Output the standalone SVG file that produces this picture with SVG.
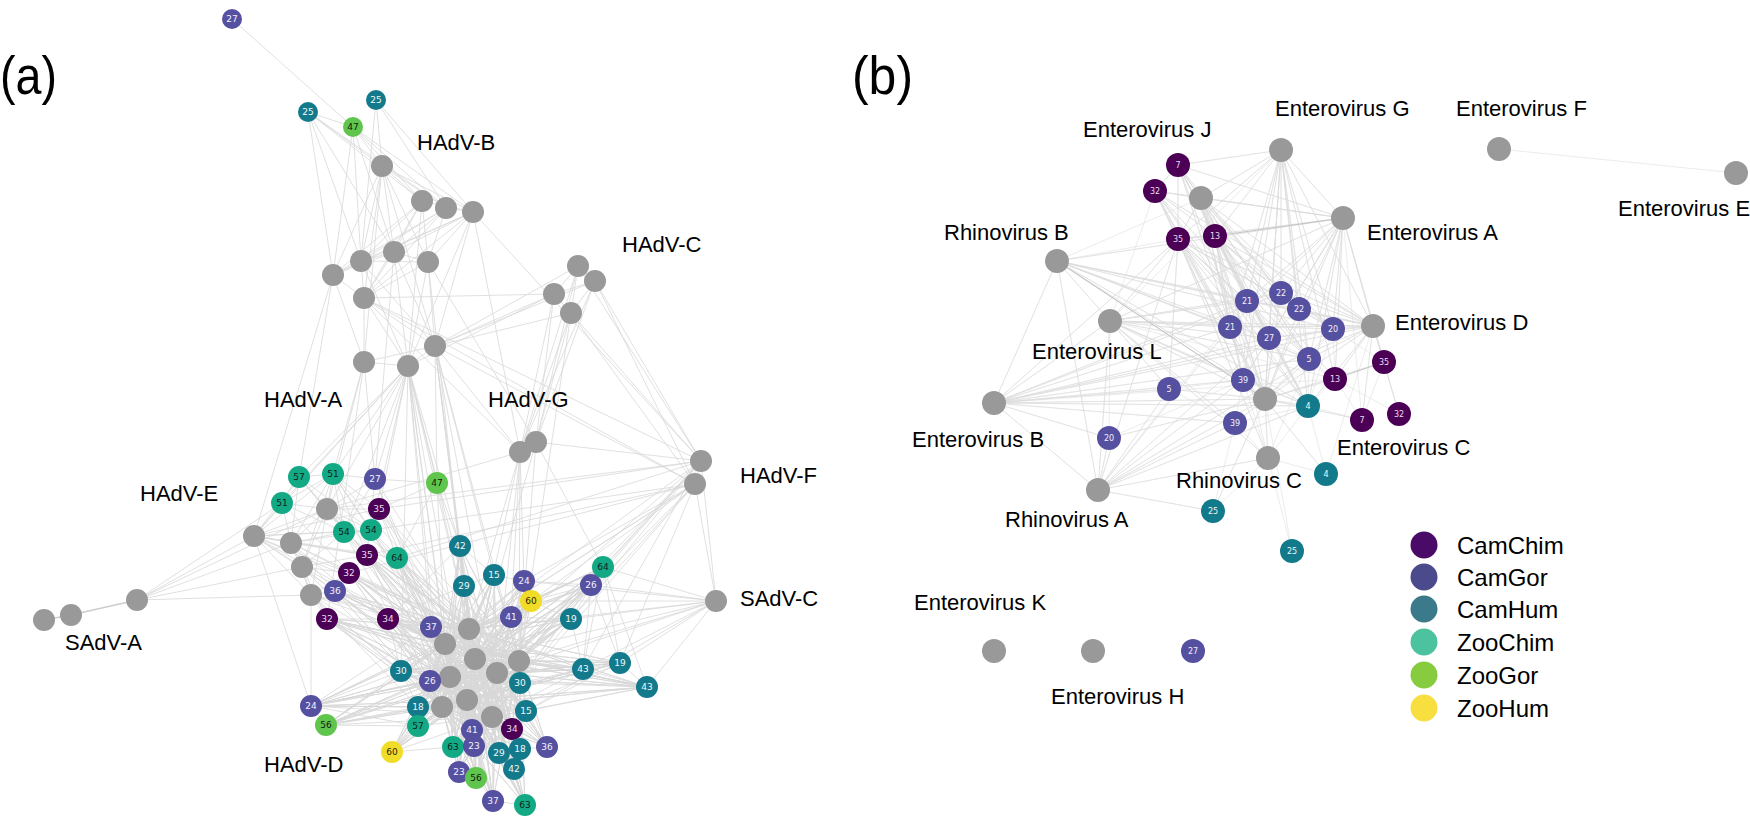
<svg xmlns="http://www.w3.org/2000/svg" width="1750" height="817" viewBox="0 0 1750 817">
<style>
.e{fill:none;stroke:#d8d8d8;stroke-width:0.8}
.eh{fill:none;stroke:#cccccc;stroke-width:1.6}
.eb{fill:none;stroke:#dcdcdc;stroke-width:0.55}
.ed{fill:none;stroke:#c4c4c4;stroke-width:1}
.gr circle{fill:#999999}
.cc circle{fill:#4b0055}.cc text{fill:#eadcec}
.cg circle{fill:#5650a0}.cg text{fill:#f2f2ff}
.ch circle{fill:#137a8c}.ch text{fill:#f0f8f8}
.zc circle{fill:#14a985}.zc text{fill:#0d1f1a}
.zg circle{fill:#60c54c}.zg text{fill:#10200c}
.zh circle{fill:#f1dc28}.zh text{fill:#2a2608}
.na text{font-family:"DejaVu Sans",Verdana,sans-serif;font-size:9px;text-anchor:middle}
.nb text{font-family:"DejaVu Sans",Verdana,sans-serif;font-size:8px;text-anchor:middle}
.lab{font-family:"Liberation Sans",Arial,Helvetica,sans-serif;font-size:22px;fill:#000}
.pl{font-family:"Liberation Sans",Arial,sans-serif;font-size:54px;fill:#000}
.lg{font-family:"Liberation Sans",Arial,Helvetica,sans-serif;font-size:24px;fill:#000}
</style>
<rect width="1750" height="817" fill="#ffffff"/>
<text class="pl" x="0" y="94" textLength="57" lengthAdjust="spacingAndGlyphs">(a)</text>
<text class="pl" x="852" y="94" textLength="61" lengthAdjust="spacingAndGlyphs">(b)</text>

<g id="connectors">
<path class="e" d="M232 19L353 127M308 112L382 166M308 112L422 201M308 112L446 208M308 112L361 261M308 112L333 275M308 112L353 127M308 112L394 252M376 100L382 166M376 100L473 212M376 100L446 208M376 100L361 261M353 127L382 166M353 127L422 201M353 127L446 208M353 127L473 212M353 127L361 261M353 127L394 252M353 127L333 275
M382 166L422 201M382 166L446 208M382 166L473 212M382 166L333 275M382 166L361 261M382 166L394 252M382 166L428 262M382 166L364 298M382 166L435 346M382 166L364 362
M422 201L333 275M422 201L361 261M422 201L394 252M422 201L428 262M422 201L364 298M422 201L473 212M422 201L408 366
M446 208L473 212M446 208L333 275M446 208L361 261M446 208L394 252M446 208L428 262M446 208L364 298
M473 212L333 275M473 212L361 261M473 212L394 252M473 212L428 262M473 212L364 298M473 212L435 346M473 212L408 366M473 212L701 461M473 212L520 452
M333 275L361 261M333 275L394 252M333 275L364 298M333 275L254 536M333 275L364 362M333 275L299 477
M361 261L394 252M361 261L428 262M361 261L364 298M361 261L435 346M361 261L408 366
M394 252L428 262M394 252L364 298M394 252L435 346M394 252L408 366M394 252L375 479
M428 262L364 298M428 262L435 346M428 262L408 366M428 262L469 629M428 262L536 442
M364 298L435 346M364 298L364 362M364 298L408 366M364 298L701 461M364 298L520 452M364 298L695 484
M435 346L364 362M435 346L408 366M435 346L578 266M435 346L554 294M435 346L595 281M435 346L571 313M435 346L520 452M435 346L469 629M435 346L519 661M435 346L437 483M435 346L475 659M435 346L695 484M435 346L497 673M435 346L464 586M435 346L494 575
M364 362L408 366M364 362L375 479M364 362L327 509M364 362L333 474M364 362L327 619
M408 366L375 479M408 366L379 509M408 366L344 532M408 366L333 474M408 366L327 509M408 366L299 477M408 366L469 629M408 366L445 644M408 366L437 483M408 366L460 546M408 366L450 677M408 366L282 503M408 366L254 536M408 366L371 530M408 366L442 707M408 366L467 700M408 366L431 627M408 366L464 586M408 366L401 671
M578 266L595 281M578 266L554 294M578 266L571 313M578 266L520 452M578 266L701 461M578 266L536 442M595 281L554 294M595 281L571 313M595 281L701 461M595 281L536 442M595 281L695 484M595 281L520 452M554 294L571 313M554 294L520 452M554 294L536 442M554 294L408 366M554 294L364 298M571 313L520 452M571 313L536 442M571 313L701 461M571 313L695 484M571 313L519 661
M520 452L536 442M520 452L469 629M520 452L519 661M520 452L475 659M520 452L511 617M520 452L497 673M520 452L524 581M520 452L327 509M536 442L519 661M536 442L701 461M536 442L475 659M536 442L603 567
M701 461L695 484M701 461L716 601M701 461L519 661M701 461L469 629M701 461L397 558M701 461L379 509M701 461L603 567M701 461L591 585M701 461L475 659M701 461L327 509M701 461L497 673M701 461L583 669M701 461L571 619
M695 484L716 601M695 484L519 661M695 484L531 601M695 484L367 555M695 484L371 530M695 484L469 629M695 484L524 581M695 484L349 573M695 484L445 644M695 484L492 717M695 484L620 663M695 484L571 619
M716 601L603 567M716 601L591 585M716 601L571 619M716 601L519 661M716 601L583 669M716 601L469 629M716 601L531 601M716 601L524 581M716 601L620 663M716 601L647 687M716 601L475 659M716 601L497 673M716 601L526 711
M137 600L254 536M137 600L291 543M137 600L302 567M137 600L311 595M137 600L327 509M137 600L282 503
M254 536L299 477M254 536L282 503M254 536L327 509M254 536L291 543M254 536L302 567M254 536L311 595M254 536L333 474M254 536L344 532M254 536L367 555M254 536L311 706M254 536L349 573M254 536L445 644M254 536L371 530M254 536L379 509M254 536L397 558M254 536L469 629M254 536L335 591
M327 509L291 543M327 509L302 567M327 509L333 474M327 509L299 477M327 509L344 532M327 509L371 530M327 509L379 509M327 509L367 555M327 509L375 479M327 509L311 595M327 509L397 558M327 509L282 503M327 509L469 629M327 509L445 644
M291 543L302 567M291 543L311 595M291 543L282 503M291 543L344 532M291 543L349 573M291 543L335 591M291 543L367 555M291 543L299 477M291 543L333 474M291 543L371 530M291 543L450 677M291 543L469 629
M302 567L311 595M302 567L335 591M302 567L349 573M302 567L327 619M302 567L344 532M302 567L367 555M302 567L333 474M302 567L445 644M302 567L442 707
M311 595L335 591M311 595L327 619M311 595L349 573M311 595L445 644M311 595L469 629M311 595L431 627M311 595L450 677M311 595L442 707M311 595L401 671M311 595L418 707M311 595L311 706
M299 477L282 503M299 477L333 474M333 474L375 479M375 479L437 483M333 474L344 532M333 474L367 555M333 474L379 509M282 503L344 532M282 503L333 474M379 509L371 530M344 532L371 530M367 555L349 573M349 573L335 591M379 509L397 558M437 483L397 558M437 483L460 546M437 483L379 509M437 483L469 629M437 483L445 644M375 479L367 555M375 479L344 532M299 477L344 532M299 477L371 530M333 474L371 530
M344 532L469 629M344 532L445 644M344 532L450 677M344 532L442 707M371 530L469 629M371 530L445 644M371 530L475 659M371 530L450 677M379 509L469 629M379 509L445 644M379 509L519 661M379 509L475 659M375 479L469 629M375 479L445 644M375 479L450 677M333 474L445 644M333 474L469 629M299 477L445 644M282 503L450 677
M311 706L326 725M311 706L401 671M311 706L430 681M311 706L418 707M311 706L418 726M311 706L431 627M326 725L401 671M326 725L418 707M326 725L418 726M326 725L430 681M392 752L418 726M392 752L418 707M392 752L453 747M583 669L620 663M583 669L647 687M620 663L647 687M571 619L583 669M520 683L583 669M520 683L647 687M526 711L647 687M526 711L620 663M547 747L526 711M547 747L520 749M547 747L520 683M603 567L591 585M603 567L531 601M591 585L531 601M591 585L524 581M524 581L531 601M494 575L524 581M464 586L494 575M460 546L464 586M460 546L494 575M431 627L401 671M431 627L430 681M401 671L430 681M401 671L418 707M430 681L418 707M418 707L418 726M453 747L474 746M474 746L459 772M459 772L476 778M476 778L493 801M493 801L525 805M514 769L525 805M499 753L520 749M499 753L514 769M512 729L520 749M512 729L526 711M472 730L474 746M472 730L512 729M388 619L431 627M388 619L401 671M327 619L401 671M327 619L388 619M388 619L464 586M388 619L460 546M511 617L531 601M511 617L571 619M571 619L531 601M571 619L603 567M620 663L603 567M647 687L603 567M583 669L603 567M583 669L591 585M620 663L591 585"/>
<path class="e" d="M469 629L445 644M469 629L475 659M469 629L519 661M469 629L497 673M469 629L450 677M469 629L467 700M469 629L442 707M469 629L492 717M445 644L475 659M445 644L519 661M445 644L497 673M445 644L450 677M445 644L467 700M445 644L442 707M445 644L492 717M475 659L519 661M475 659L497 673M475 659L450 677M475 659L467 700M475 659L442 707M475 659L492 717M519 661L497 673M519 661L450 677M519 661L467 700M519 661L442 707M519 661L492 717M497 673L450 677M497 673L467 700M497 673L442 707M497 673L492 717M450 677L467 700M450 677L442 707M450 677L492 717M467 700L442 707M467 700L492 717M442 707L492 717
M460 546L469 629L460 546L445 644L460 546L475 659L460 546L519 661L460 546L497 673L460 546L450 677L460 546L467 700L460 546L442 707L460 546L492 717
M494 575L469 629L494 575L445 644L494 575L475 659L494 575L519 661L494 575L497 673L494 575L450 677L494 575L467 700L494 575L442 707L494 575L492 717
M464 586L469 629L464 586L445 644L464 586L475 659L464 586L519 661L464 586L497 673L464 586L450 677L464 586L467 700L464 586L442 707L464 586L492 717
M524 581L469 629L524 581L445 644L524 581L475 659L524 581L519 661L524 581L497 673L524 581L450 677L524 581L467 700L524 581L442 707L524 581L492 717
M531 601L469 629L531 601L445 644L531 601L475 659L531 601L519 661L531 601L497 673L531 601L450 677L531 601L467 700L531 601L442 707L531 601L492 717
M603 567L469 629L603 567L445 644L603 567L475 659L603 567L519 661L603 567L497 673L603 567L450 677L603 567L467 700L603 567L442 707L603 567L492 717
M591 585L469 629L591 585L445 644L591 585L475 659L591 585L519 661L591 585L497 673L591 585L450 677L591 585L467 700L591 585L442 707L591 585L492 717
M511 617L469 629L511 617L445 644L511 617L475 659L511 617L519 661L511 617L497 673L511 617L450 677L511 617L467 700L511 617L442 707L511 617L492 717
M571 619L469 629L571 619L445 644L571 619L475 659L571 619L519 661L571 619L497 673L571 619L450 677L571 619L467 700L571 619L442 707L571 619L492 717
M431 627L469 629L431 627L445 644L431 627L475 659L431 627L519 661L431 627L497 673L431 627L450 677L431 627L467 700L431 627L442 707L431 627L492 717
M401 671L469 629L401 671L445 644L401 671L475 659L401 671L519 661L401 671L497 673L401 671L450 677L401 671L467 700L401 671L442 707L401 671L492 717
M430 681L469 629L430 681L445 644L430 681L475 659L430 681L519 661L430 681L497 673L430 681L450 677L430 681L467 700L430 681L442 707L430 681L492 717
M520 683L469 629L520 683L445 644L520 683L475 659L520 683L519 661L520 683L497 673L520 683L450 677L520 683L467 700L520 683L442 707L520 683L492 717
M583 669L469 629L583 669L445 644L583 669L475 659L583 669L519 661L583 669L497 673L583 669L450 677L583 669L467 700L583 669L442 707L583 669L492 717
M620 663L469 629L620 663L445 644L620 663L475 659L620 663L519 661L620 663L497 673L620 663L450 677L620 663L467 700L620 663L442 707L620 663L492 717
M647 687L469 629L647 687L445 644L647 687L475 659L647 687L519 661L647 687L497 673L647 687L450 677L647 687L467 700L647 687L442 707L647 687L492 717
M418 707L469 629L418 707L445 644L418 707L475 659L418 707L519 661L418 707L497 673L418 707L450 677L418 707L467 700L418 707L442 707L418 707L492 717
M526 711L469 629L526 711L445 644L526 711L475 659L526 711L519 661L526 711L497 673L526 711L450 677L526 711L467 700L526 711L442 707L526 711L492 717
M418 726L469 629L418 726L445 644L418 726L475 659L418 726L519 661L418 726L497 673L418 726L450 677L418 726L467 700L418 726L442 707L418 726L492 717
M472 730L469 629L472 730L445 644L472 730L475 659L472 730L519 661L472 730L497 673L472 730L450 677L472 730L467 700L472 730L442 707L472 730L492 717
M512 729L469 629L512 729L445 644L512 729L475 659L512 729L519 661L512 729L497 673L512 729L450 677L512 729L467 700L512 729L442 707L512 729L492 717
M453 747L469 629L453 747L445 644L453 747L475 659L453 747L519 661L453 747L497 673L453 747L450 677L453 747L467 700L453 747L442 707L453 747L492 717
M474 746L469 629L474 746L445 644L474 746L475 659L474 746L519 661L474 746L497 673L474 746L450 677L474 746L467 700L474 746L442 707L474 746L492 717
M499 753L469 629L499 753L445 644L499 753L475 659L499 753L519 661L499 753L497 673L499 753L450 677L499 753L467 700L499 753L442 707L499 753L492 717
M520 749L469 629L520 749L445 644L520 749L475 659L520 749L519 661L520 749L497 673L520 749L450 677L520 749L467 700L520 749L442 707L520 749L492 717
M547 747L469 629L547 747L445 644L547 747L475 659L547 747L519 661L547 747L497 673L547 747L450 677L547 747L467 700L547 747L442 707L547 747L492 717
M392 752L469 629L392 752L445 644L392 752L475 659L392 752L519 661L392 752L497 673L392 752L450 677L392 752L467 700L392 752L442 707L392 752L492 717
M514 769L469 629L514 769L445 644L514 769L475 659L514 769L519 661L514 769L497 673L514 769L450 677L514 769L467 700L514 769L442 707L514 769L492 717
M459 772L469 629L459 772L445 644L459 772L475 659L459 772L519 661L459 772L497 673L459 772L450 677L459 772L467 700L459 772L442 707L459 772L492 717
M476 778L469 629L476 778L445 644L476 778L475 659L476 778L519 661L476 778L497 673L476 778L450 677L476 778L467 700L476 778L442 707L476 778L492 717
M493 801L469 629L493 801L445 644L493 801L475 659L493 801L519 661L493 801L497 673L493 801L450 677L493 801L467 700L493 801L442 707L493 801L492 717
M525 805L469 629L525 805L445 644L525 805L475 659L525 805L519 661L525 805L497 673L525 805L450 677L525 805L467 700L525 805L442 707L525 805L492 717
M311 706L469 629L311 706L445 644L311 706L475 659L311 706L519 661L311 706L497 673L311 706L450 677L311 706L467 700L311 706L442 707L311 706L492 717
M326 725L469 629L326 725L445 644L326 725L475 659L326 725L519 661L326 725L497 673L326 725L450 677L326 725L467 700L326 725L442 707L326 725L492 717
M388 619L469 629L388 619L445 644L388 619L475 659L388 619L519 661L388 619L497 673L388 619L450 677L388 619L467 700L388 619L442 707L388 619L492 717
M327 619L469 629L327 619L445 644L327 619L475 659L327 619L519 661L327 619L497 673L327 619L450 677L327 619L467 700L327 619L442 707L327 619L492 717
M335 591L469 629L335 591L445 644L335 591L475 659L335 591L519 661L335 591L497 673L335 591L450 677L335 591L467 700L335 591L442 707L335 591L492 717
M349 573L469 629L349 573L445 644L349 573L475 659L349 573L519 661L349 573L497 673L349 573L450 677L349 573L467 700L349 573L442 707L349 573L492 717
M367 555L469 629L367 555L445 644L367 555L475 659L367 555L519 661L367 555L497 673L367 555L450 677L367 555L467 700L367 555L442 707L367 555L492 717
M397 558L469 629L397 558L445 644L397 558L475 659L397 558L519 661L397 558L497 673L397 558L450 677L397 558L467 700L397 558L442 707L397 558L492 717"/>
<path class="eh" d="M44 620L71 615L137 600"/>
<path class="eb" d="M1281 150L1178 165L1281 150L1178 239L1281 150L1215 236L1281 150L1247 301L1281 150L1281 293L1281 150L1299 309L1281 150L1230 327L1281 150L1269 338L1281 150L1333 329L1281 150L1309 359L1281 150L1373 326L1281 150L1343 218L1281 150L1243 380L1281 150L1265 399L1281 150L1335 379L1281 150L1308 406L1281 150L1201 198L1281 150L1110 321
M1343 218L1178 239L1343 218L1201 198L1343 218L1178 165L1343 218L1155 191L1343 218L1247 301L1343 218L1281 293L1343 218L1299 309L1343 218L1333 329L1343 218L1309 359L1343 218L1373 326L1343 218L1335 379L1343 218L1269 338L1343 218L1308 406L1343 218L1265 399L1343 218L1384 362L1343 218L1110 321L1343 218L1057 261L1343 218L1230 327L1343 218L1243 380L1343 218L1362 420
M1201 198L1178 165L1201 198L1155 191L1201 198L1178 239L1201 198L1215 236L1201 198L1247 301L1201 198L1281 293L1201 198L1299 309L1201 198L1230 327L1201 198L1269 338L1201 198L1333 329L1201 198L1309 359L1201 198L1265 399L1201 198L1308 406L1201 198L1373 326L1201 198L1243 380L1201 198L1057 261
M1178 165L1155 191L1178 165L1178 239L1178 165L1215 236L1178 165L1230 327L1178 165L1269 338L1178 165L1281 293L1178 165L1265 399L1178 165L1308 406L1178 165L1309 359L1178 165L1247 301
M1155 191L1178 239L1155 191L1215 236L1155 191L1230 327L1155 191L1269 338L1155 191L1243 380L1155 191L1265 399L1155 191L1308 406L1155 191L1309 359L1155 191L1373 326L1155 191L1110 321
M1178 239L1215 236L1178 239L1230 327L1178 239L1269 338L1178 239L1243 380L1178 239L1265 399L1178 239L1308 406L1178 239L1309 359L1178 239L1373 326L1178 239L1110 321L1178 239L1169 389L1178 239L1268 458L1178 239L1098 490L1178 239L994 403L1178 239L1299 309L1178 239L1333 329L1178 239L1247 301L1178 239L1057 261
M1215 236L1247 301L1215 236L1230 327L1215 236L1269 338L1215 236L1281 293L1215 236L1299 309L1215 236L1243 380L1215 236L1265 399L1215 236L1308 406L1215 236L1309 359L1215 236L1373 326L1215 236L1333 329L1215 236L1335 379L1215 236L1268 458
M1057 261L1110 321L1057 261L994 403L1057 261L1230 327L1057 261L1269 338L1057 261L1373 326L1057 261L1333 329L1057 261L1265 399L1057 261L1309 359L1057 261L1308 406L1057 261L1243 380L1057 261L1098 490L1057 261L1247 301L1057 261L1299 309
M1110 321L1230 327L1110 321L1269 338L1110 321L1333 329L1110 321L1373 326L1110 321L1265 399L1110 321L1243 380L1110 321L1309 359L1110 321L1308 406L1110 321L1169 389L1110 321L1235 423L1110 321L1098 490L1110 321L994 403L1110 321L1268 458L1110 321L1247 301L1110 321L1281 293L1110 321L1335 379
M1373 326L1299 309L1373 326L1333 329L1373 326L1309 359L1373 326L1335 379L1373 326L1384 362L1373 326L1308 406L1373 326L1265 399L1373 326L1269 338L1373 326L1230 327L1373 326L1247 301L1373 326L1281 293L1373 326L1362 420L1373 326L1399 414L1373 326L1243 380L1373 326L1326 474
M1265 399L1243 380L1265 399L1235 423L1265 399L1308 406L1265 399L1268 458L1265 399L1169 389L1265 399L994 403L1265 399L1109 438L1265 399L1098 490L1265 399L1335 379L1265 399L1362 420L1265 399L1309 359L1265 399L1269 338L1265 399L1230 327L1265 399L1247 301L1265 399L1281 293L1265 399L1299 309L1265 399L1333 329L1265 399L1326 474L1265 399L1213 511L1265 399L1384 362L1265 399L1292 551
M994 403L1169 389L994 403L1243 380L994 403L1235 423L994 403L1230 327L994 403L1269 338L994 403L1098 490L994 403L1109 438L994 403L1308 406L994 403L1309 359L994 403L1373 326L994 403L1247 301L994 403L1281 293L994 403L1333 329L994 403L1335 379
M1098 490L1169 389L1098 490L1235 423L1098 490L1243 380L1098 490L1268 458L1098 490L1109 438L1098 490L1308 406L1098 490L1230 327L1098 490L1269 338L1098 490L1213 511L1098 490L1309 359L1098 490L1247 301
M1335 379L1362 420M1335 379L1399 414M1335 379L1308 406M1335 379L1309 359M1335 379L1333 329M1335 379L1269 338M1384 362L1399 414M1384 362L1362 420M1384 362L1333 329M1308 406L1362 420M1308 406L1326 474M1308 406L1268 458M1308 406L1235 423M1308 406L1243 380M1308 406L1309 359M1308 406L1269 338M1268 458L1235 423M1268 458L1292 551M1268 458L1326 474M1268 458L1243 380M1268 458L1309 359M1235 423L1169 389M1235 423L1213 511M1235 423L1243 380M1109 438L1243 380M1109 438L1110 321M1169 389L1243 380M1247 301L1281 293M1247 301L1299 309M1247 301L1230 327M1247 301L1269 338M1281 293L1299 309M1281 293L1269 338M1299 309L1269 338M1299 309L1333 329M1230 327L1269 338M1269 338L1333 329M1269 338L1309 359M1309 359L1333 329M1230 327L1243 380M1269 338L1243 380M1333 329L1308 406M1299 309L1309 359M1247 301L1243 380M1281 293L1333 329M1213 511L1268 458M1499 149L1736 173"/>
<path class="ed" d="M1343 218L1215 236M1335 379L1384 362M1057 261L1265 399"/>
</g>

<g id="panel-a-nodes" class="na">
<g id="a-B1" class="gr"><circle cx="382" cy="166" r="11"/></g>
<g id="a-B2" class="gr"><circle cx="422" cy="201" r="11"/></g>
<g id="a-B3" class="gr"><circle cx="446" cy="208" r="11"/></g>
<g id="a-B4" class="gr"><circle cx="473" cy="212" r="11"/></g>
<g id="a-B5" class="gr"><circle cx="333" cy="275" r="11"/></g>
<g id="a-B6" class="gr"><circle cx="361" cy="261" r="11"/></g>
<g id="a-B7" class="gr"><circle cx="394" cy="252" r="11"/></g>
<g id="a-B8" class="gr"><circle cx="428" cy="262" r="11"/></g>
<g id="a-B9" class="gr"><circle cx="364" cy="298" r="11"/></g>
<g id="a-C1" class="gr"><circle cx="578" cy="266" r="11"/></g>
<g id="a-C2" class="gr"><circle cx="595" cy="281" r="11"/></g>
<g id="a-C3" class="gr"><circle cx="554" cy="294" r="11"/></g>
<g id="a-C4" class="gr"><circle cx="571" cy="313" r="11"/></g>
<g id="a-A1" class="gr"><circle cx="435" cy="346" r="11"/></g>
<g id="a-A2" class="gr"><circle cx="364" cy="362" r="11"/></g>
<g id="a-A3" class="gr"><circle cx="408" cy="366" r="11"/></g>
<g id="a-G2" class="gr"><circle cx="536" cy="442" r="11"/></g>
<g id="a-G1" class="gr"><circle cx="520" cy="452" r="11"/></g>
<g id="a-F1" class="gr"><circle cx="701" cy="461" r="11"/></g>
<g id="a-F2" class="gr"><circle cx="695" cy="484" r="11"/></g>
<g id="a-SC" class="gr"><circle cx="716" cy="601" r="11"/></g>
<g id="a-E1" class="gr"><circle cx="327" cy="509" r="11"/></g>
<g id="a-E2" class="gr"><circle cx="254" cy="536" r="11"/></g>
<g id="a-E3" class="gr"><circle cx="291" cy="543" r="11"/></g>
<g id="a-E4" class="gr"><circle cx="302" cy="567" r="11"/></g>
<g id="a-E5" class="gr"><circle cx="311" cy="595" r="11"/></g>
<g id="a-S1" class="gr"><circle cx="137" cy="600" r="11"/></g>
<g id="a-S2" class="gr"><circle cx="71" cy="615" r="11"/></g>
<g id="a-S3" class="gr"><circle cx="44" cy="620" r="11"/></g>
<g id="a-D1" class="gr"><circle cx="469" cy="629" r="11"/></g>
<g id="a-D2" class="gr"><circle cx="445" cy="644" r="11"/></g>
<g id="a-D3" class="gr"><circle cx="475" cy="659" r="11"/></g>
<g id="a-D4" class="gr"><circle cx="519" cy="661" r="11"/></g>
<g id="a-D5" class="gr"><circle cx="497" cy="673" r="11"/></g>
<g id="a-D6" class="gr"><circle cx="450" cy="677" r="11"/></g>
<g id="a-D7" class="gr"><circle cx="467" cy="700" r="11"/></g>
<g id="a-D8" class="gr"><circle cx="442" cy="707" r="11"/></g>
<g id="a-D9" class="gr"><circle cx="492" cy="717" r="11"/></g>

<g id="a-t27" class="cg"><circle cx="232" cy="19" r="10"/><text x="232" y="22.3">27</text></g>
<g id="a-t25a" class="ch"><circle cx="308" cy="112" r="10"/><text x="308" y="115.3">25</text></g>
<g id="a-t25b" class="ch"><circle cx="376" cy="100" r="10"/><text x="376" y="103.3">25</text></g>
<g id="a-t47" class="zg"><circle cx="353" cy="127" r="10"/><text x="353" y="130.3">47</text></g>
<g id="a-e57" class="zc"><circle cx="299" cy="477" r="11"/><text x="299" y="480.3">57</text></g>
<g id="a-e51a" class="zc"><circle cx="333" cy="474" r="11"/><text x="333" y="477.3">51</text></g>
<g id="a-e27" class="cg"><circle cx="375" cy="479" r="11"/><text x="375" y="482.3">27</text></g>
<g id="a-e47" class="zg"><circle cx="437" cy="483" r="11"/><text x="437" y="486.3">47</text></g>
<g id="a-e51b" class="zc"><circle cx="282" cy="503" r="11"/><text x="282" y="506.3">51</text></g>
<g id="a-e35a" class="cc"><circle cx="379" cy="509" r="11"/><text x="379" y="512.3">35</text></g>
<g id="a-e54a" class="zc"><circle cx="344" cy="532" r="11"/><text x="344" y="535.3">54</text></g>
<g id="a-e54b" class="zc"><circle cx="371" cy="530" r="11"/><text x="371" y="533.3">54</text></g>
<g id="a-e35b" class="cc"><circle cx="367" cy="555" r="11"/><text x="367" y="558.3">35</text></g>
<g id="a-e64" class="zc"><circle cx="397" cy="558" r="11"/><text x="397" y="561.3">64</text></g>
<g id="a-e32a" class="cc"><circle cx="349" cy="573" r="11"/><text x="349" y="576.3">32</text></g>
<g id="a-e36" class="cg"><circle cx="335" cy="591" r="11"/><text x="335" y="594.3">36</text></g>
<g id="a-e32b" class="cc"><circle cx="327" cy="619" r="11"/><text x="327" y="622.3">32</text></g>
<g id="a-e34" class="cc"><circle cx="388" cy="619" r="11"/><text x="388" y="622.3">34</text></g>
<g id="a-d42" class="ch"><circle cx="460" cy="546" r="11"/><text x="460" y="549.3">42</text></g>
<g id="a-d15" class="ch"><circle cx="494" cy="575" r="11"/><text x="494" y="578.3">15</text></g>
<g id="a-d29" class="ch"><circle cx="464" cy="586" r="11"/><text x="464" y="589.3">29</text></g>
<g id="a-d24" class="cg"><circle cx="524" cy="581" r="11"/><text x="524" y="584.3">24</text></g>
<g id="a-d60" class="zh"><circle cx="531" cy="601" r="11"/><text x="531" y="604.3">60</text></g>
<g id="a-d64" class="zc"><circle cx="603" cy="567" r="11"/><text x="603" y="570.3">64</text></g>
<g id="a-d26" class="cg"><circle cx="591" cy="585" r="11"/><text x="591" y="588.3">26</text></g>
<g id="a-d41" class="cg"><circle cx="511" cy="617" r="11"/><text x="511" y="620.3">41</text></g>
<g id="a-d19" class="ch"><circle cx="571" cy="619" r="11"/><text x="571" y="622.3">19</text></g>
<g id="a-d37" class="cg"><circle cx="431" cy="627" r="11"/><text x="431" y="630.3">37</text></g>
<g id="a-d30a" class="ch"><circle cx="401" cy="671" r="11"/><text x="401" y="674.3">30</text></g>
<g id="a-d26b" class="cg"><circle cx="430" cy="681" r="11"/><text x="430" y="684.3">26</text></g>
<g id="a-d30b" class="ch"><circle cx="520" cy="683" r="11"/><text x="520" y="686.3">30</text></g>
<g id="a-d43a" class="ch"><circle cx="583" cy="669" r="11"/><text x="583" y="672.3">43</text></g>
<g id="a-d19b" class="ch"><circle cx="620" cy="663" r="11"/><text x="620" y="666.3">19</text></g>
<g id="a-d43b" class="ch"><circle cx="647" cy="687" r="11"/><text x="647" y="690.3">43</text></g>
<g id="a-d18" class="ch"><circle cx="418" cy="707" r="11"/><text x="418" y="710.3">18</text></g>
<g id="a-d15b" class="ch"><circle cx="526" cy="711" r="11"/><text x="526" y="714.3">15</text></g>
<g id="a-d57" class="zc"><circle cx="418" cy="726" r="11"/><text x="418" y="729.3">57</text></g>
<g id="a-d41b" class="cg"><circle cx="472" cy="730" r="11"/><text x="472" y="733.3">41</text></g>
<g id="a-d34" class="cc"><circle cx="512" cy="729" r="11"/><text x="512" y="732.3">34</text></g>
<g id="a-d63" class="zc"><circle cx="453" cy="747" r="11"/><text x="453" y="750.3">63</text></g>
<g id="a-d23" class="cg"><circle cx="474" cy="746" r="11"/><text x="474" y="749.3">23</text></g>
<g id="a-d29b" class="ch"><circle cx="499" cy="753" r="11"/><text x="499" y="756.3">29</text></g>
<g id="a-d42b" class="ch"><circle cx="514" cy="769" r="11"/><text x="514" y="772.3">42</text></g>
<g id="a-d18b" class="ch"><circle cx="520" cy="749" r="11"/><text x="520" y="752.3">18</text></g>
<g id="a-d36" class="cg"><circle cx="547" cy="747" r="11"/><text x="547" y="750.3">36</text></g>
<g id="a-d60b" class="zh"><circle cx="392" cy="752" r="11"/><text x="392" y="755.3">60</text></g>
<g id="a-d23b" class="cg"><circle cx="459" cy="772" r="11"/><text x="459" y="775.3">23</text></g>
<g id="a-d56" class="zg"><circle cx="476" cy="778" r="11"/><text x="476" y="781.3">56</text></g>
<g id="a-d37b" class="cg"><circle cx="493" cy="801" r="11"/><text x="493" y="804.3">37</text></g>
<g id="a-d63b" class="zc"><circle cx="525" cy="805" r="11"/><text x="525" y="808.3">63</text></g>
<g id="a-d24b" class="cg"><circle cx="311" cy="706" r="11"/><text x="311" y="709.3">24</text></g>
<g id="a-d56b" class="zg"><circle cx="326" cy="725" r="11"/><text x="326" y="728.3">56</text></g>
</g>

<g id="panel-b-nodes" class="nb">
<g id="b-G" class="gr"><circle cx="1281" cy="150" r="12"/></g>
<g id="b-F" class="gr"><circle cx="1499" cy="149" r="12"/></g>
<g id="b-E" class="gr"><circle cx="1736" cy="173" r="12"/></g>
<g id="b-J" class="gr"><circle cx="1201" cy="198" r="12"/></g>
<g id="b-A" class="gr"><circle cx="1343" cy="218" r="12"/></g>
<g id="b-RB" class="gr"><circle cx="1057" cy="261" r="12"/></g>
<g id="b-L" class="gr"><circle cx="1110" cy="321" r="12"/></g>
<g id="b-D" class="gr"><circle cx="1373" cy="326" r="12"/></g>
<g id="b-B" class="gr"><circle cx="994" cy="403" r="12"/></g>
<g id="b-X" class="gr"><circle cx="1265" cy="399" r="12"/></g>
<g id="b-RC" class="gr"><circle cx="1268" cy="458" r="12"/></g>
<g id="b-RA" class="gr"><circle cx="1098" cy="490" r="12"/></g>
<g id="b-K" class="gr"><circle cx="994" cy="651" r="12"/></g>
<g id="b-H" class="gr"><circle cx="1093" cy="651" r="12"/></g>
<g id="b-c7a" class="cc"><circle cx="1178" cy="165" r="12"/><text x="1178" y="168">7</text></g>
<g id="b-c32a" class="cc"><circle cx="1155" cy="191" r="12"/><text x="1155" y="194">32</text></g>
<g id="b-c35a" class="cc"><circle cx="1178" cy="239" r="12"/><text x="1178" y="242">35</text></g>
<g id="b-c13a" class="cc"><circle cx="1215" cy="236" r="12"/><text x="1215" y="239">13</text></g>
<g id="b-g21a" class="cg"><circle cx="1247" cy="301" r="12"/><text x="1247" y="304">21</text></g>
<g id="b-g22a" class="cg"><circle cx="1281" cy="293" r="12"/><text x="1281" y="296">22</text></g>
<g id="b-g22b" class="cg"><circle cx="1299" cy="309" r="12"/><text x="1299" y="312">22</text></g>
<g id="b-g21b" class="cg"><circle cx="1230" cy="327" r="12"/><text x="1230" y="330">21</text></g>
<g id="b-g27" class="cg"><circle cx="1269" cy="338" r="12"/><text x="1269" y="341">27</text></g>
<g id="b-g20a" class="cg"><circle cx="1333" cy="329" r="12"/><text x="1333" y="332">20</text></g>
<g id="b-g5a" class="cg"><circle cx="1309" cy="359" r="12"/><text x="1309" y="362">5</text></g>
<g id="b-c35b" class="cc"><circle cx="1384" cy="362" r="12"/><text x="1384" y="365">35</text></g>
<g id="b-c13b" class="cc"><circle cx="1335" cy="379" r="12"/><text x="1335" y="382">13</text></g>
<g id="b-g39a" class="cg"><circle cx="1243" cy="380" r="12"/><text x="1243" y="383">39</text></g>
<g id="b-g5b" class="cg"><circle cx="1169" cy="389" r="12"/><text x="1169" y="392">5</text></g>
<g id="b-h4a" class="ch"><circle cx="1308" cy="406" r="12"/><text x="1308" y="409">4</text></g>
<g id="b-c7b" class="cc"><circle cx="1362" cy="420" r="12"/><text x="1362" y="423">7</text></g>
<g id="b-c32b" class="cc"><circle cx="1399" cy="414" r="12"/><text x="1399" y="417">32</text></g>
<g id="b-g39b" class="cg"><circle cx="1235" cy="423" r="12"/><text x="1235" y="426">39</text></g>
<g id="b-g20b" class="cg"><circle cx="1109" cy="438" r="12"/><text x="1109" y="441">20</text></g>
<g id="b-h4b" class="ch"><circle cx="1326" cy="474" r="12"/><text x="1326" y="477">4</text></g>
<g id="b-h25a" class="ch"><circle cx="1213" cy="511" r="12"/><text x="1213" y="514">25</text></g>
<g id="b-h25b" class="ch"><circle cx="1292" cy="551" r="12"/><text x="1292" y="554">25</text></g>
<g id="b-g27b" class="cg"><circle cx="1193" cy="651" r="12"/><text x="1193" y="654">27</text></g>
</g>

<g id="labels" class="lab">
<text class="lab" x="417" y="150">HAdV-B</text>
<text class="lab" x="622" y="252">HAdV-C</text>
<text class="lab" x="264" y="407">HAdV-A</text>
<text class="lab" x="488" y="407">HAdV-G</text>
<text class="lab" x="740" y="483">HAdV-F</text>
<text class="lab" x="140" y="501">HAdV-E</text>
<text class="lab" x="740" y="606">SAdV-C</text>
<text class="lab" x="65" y="650">SAdV-A</text>
<text class="lab" x="264" y="772">HAdV-D</text>
<text class="lab" x="1275" y="116">Enterovirus G</text>
<text class="lab" x="1456" y="116">Enterovirus F</text>
<text class="lab" x="1083" y="137">Enterovirus J</text>
<text class="lab" x="1618" y="216">Enterovirus E</text>
<text class="lab" x="1367" y="240">Enterovirus A</text>
<text class="lab" x="944" y="240">Rhinovirus B</text>
<text class="lab" x="1395" y="330">Enterovirus D</text>
<text class="lab" x="1032" y="359">Enterovirus L</text>
<text class="lab" x="912" y="447">Enterovirus B</text>
<text class="lab" x="1337" y="455">Enterovirus C</text>
<text class="lab" x="1176" y="488">Rhinovirus C</text>
<text class="lab" x="1005" y="527">Rhinovirus A</text>
<text class="lab" x="914" y="610">Enterovirus K</text>
<text class="lab" x="1051" y="704">Enterovirus H</text>
</g>

<g id="legend">
<circle cx="1424" cy="545" r="13.5" fill="#4a0a68"/>
<circle cx="1424" cy="577" r="13.5" fill="#4a4a8c"/>
<circle cx="1424" cy="609" r="13.5" fill="#3b7a8a"/>
<circle cx="1424" cy="642" r="13.5" fill="#4cc29e"/>
<circle cx="1424" cy="675" r="13.5" fill="#86cc3e"/>
<circle cx="1424" cy="708" r="13.5" fill="#f8df40"/>
<text class="lg" x="1457" y="554">CamChim</text>
<text class="lg" x="1457" y="586">CamGor</text>
<text class="lg" x="1457" y="618">CamHum</text>
<text class="lg" x="1457" y="651">ZooChim</text>
<text class="lg" x="1457" y="684">ZooGor</text>
<text class="lg" x="1457" y="717">ZooHum</text>
</g>
</svg>
